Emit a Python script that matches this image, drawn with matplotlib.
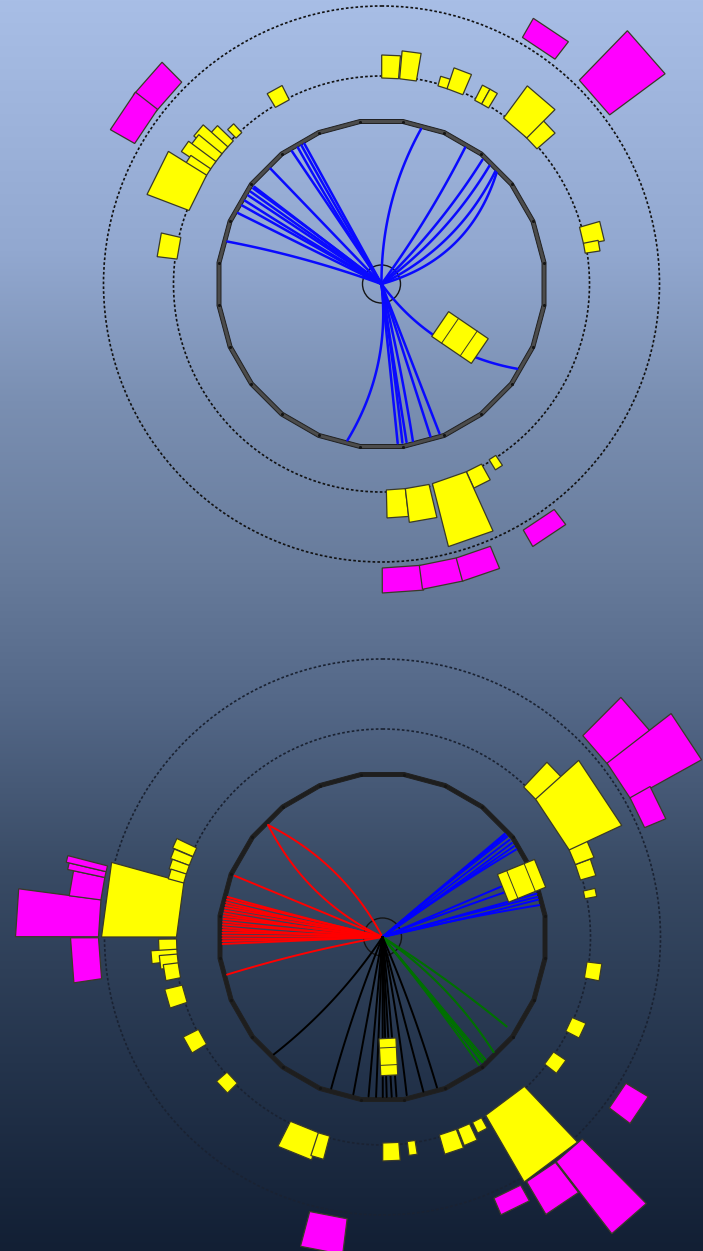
import numpy as np
import matplotlib.pyplot as plt
from matplotlib.patches import Polygon, Circle, PathPatch
from matplotlib.path import Path

W, H = 703, 1251

# detector geometry (pixels)
centres = [(381.5, 284.0), (382.5, 937.0)]
r_pipe = 19
r_trk = 160
r_em = 206
r_had = 284
r_dash = [208, 278]

# ---------- event 1 (top display) ----------
# tracks: end angle (deg), bend (fraction of chord)
ev1_trk_phi = [75.7, 118.8, 120.0, 121.5, 124.0, 133.9, 142.6, 143.3, 144.8, 146.4, 148.6, 150.6,
               153.7, 164.6, 58.5, 50.9, 47.6, 44.7, 44.0, -32.0,
               257.7, 275.8, 277.5, 279.0, 281.3, 287.8, 291.2]
ev1_trk_bend = [0.13, 0.0, 0.01, 0.02, 0.0, 0.0, 0.0, -0.01, 0.0, 0.0, 0.01, 0.0,
                0.0, -0.04, -0.04, -0.06, -0.10, -0.17, -0.27, -0.20,
                0.17, 0.0, 0.01, 0.0, 0.02, 0.0, 0.0]

# EM towers (yellow): angle, angular width, length
ev1_em_phi = [87.6, 82.6, 72.7, 69.1, 62.0, 59.8, 43.5, 49.4, 13.5, 10.0, 118.8, 133.8,
              137.5, 140.0, 142.5, 145.0, 147.5, 153.6, 170.0, 274.0, 280.0, 296.7, 302.6, 289.3]
ev1_em_dphi = [4.7, 4.7, 2.8, 4.7, 2.2, 2.2, 5.0, 8.5, 5.0, 2.8, 4.4, 2.2,
               3.0, 3.5, 3.5, 3.0, 3.0, 11.0, 6.1, 5.3, 6.7, 4.7, 2.2, 10.0]
ev1_em_len = [23, 28, 10, 22, 17, 17, 24, 40, 21, 15, 16, 12,
              22, 33, 30, 34, 24, 45, 20, 28, 34, 18, 12, 65]

# hadronic towers (magenta)
ev1_had_phi = [56.3, 41.2, 138.7, 146.2, 303.7, 274.0, 281.5, 288.9]
ev1_had_dphi = [7.9, 9.3, 8.0, 8.3, 7.5, 7.7, 7.7, 7.3]
ev1_had_len = [22, 69, 28, 28, 19, 25, 24, 24]

# clusters inside the tracker
ev1_clu_phi = [-34.3]
ev1_clu_r0 = [71]
ev1_clu_len = [48]
ev1_clu_w = [30]

# ---------- event 2 (bottom display) ----------
ev2_red_phi = [135.6, 135.6, 157.5, 165.5, 166.5, 167.5, 168.5, 169.5, 170.5, 171.5, 172.5,
               173.5, 174.5, 175.5, 176.5, 177.5, 178.5, 179.5, 180.5, 181.5, 182.5, 193.6]
ev2_red_bend = [0.17, -0.16, 0.0, 0.01, 0.0, 0.02, 0.0, -0.01, 0.0, 0.02, 0.0,
                -0.01, 0.01, 0.0, 0.02, 0.0, -0.01, 0.0, 0.01, 0.0, 0.0, -0.03]

ev2_blue_phi = [40.2, 39.5, 38.8, 37.4, 36.0, 34.6, 33.2, 23.0, 20.0, 15.7, 14.5, 13.5, 11.5]
ev2_blue_bend = [0.0, 0.01, 0.01, 0.0, -0.01, 0.0, 0.02, 0.0, 0.01, 0.0, 0.01, -0.01, 0.02]
ev2_blue_rend = [160, 160, 160, 160, 160, 160, 160, 131, 140, 160, 160, 160, 160]

ev2_green_phi = [-50.0, -51.0, -51.5, -53.0, -46.0, -35.8]
ev2_green_bend = [0.0, 0.005, 0.01, 0.02, 0.10, 0.03]
ev2_green_rend = [160, 160, 160, 160, 160, 153]

ev2_black_phi = [227.2, 251.3, 259.5, 265.0, 267.7, 270.1, 271.5, 273.3, 275.0, 278.7, 284.8, 289.9]
ev2_black_bend = [0.08, -0.03, 0.0, 0.0, 0.0, 0.0, 0.0, 0.0, 0.01, 0.02, 0.0, 0.03]

ev2_em_phi = [172.3, 155.7, 158.4, 161.0, 163.5, 182.2, 185.0, 186.5, 189.3, 196.0, 209.0, 223.1,
              247.9, 253.5, 272.3, 278.0, 288.5, 293.2, 297.3, 306.8, 324.0, 334.9, 350.8, 11.8,
              18.3, 23.1, 44.0, 33.5]
ev2_em_dphi = [15.4, 2.6, 2.6, 2.6, 2.6, 3.3, 3.2, 3.5, 4.2, 5.0, 4.7, 4.2,
               8.9, 3.3, 4.5, 2.2, 5.0, 3.6, 2.8, 13.5, 4.2, 4.2, 4.5, 2.2,
               4.5, 5.0, 5.5, 17.0]
ev2_em_len = [75, 22, 20, 18, 16, 18, 26, 18, 15, 18, 17, 14,
              28, 24, 18, 14, 20, 18, 12, 77, 15, 15, 15, 12,
              16, 20, 34, 58]

ev2_had_phi = [176.2, 170.2, 167.3, 166.1, 184.3, 40.9, 33.4, 26.0, 326.0, 311.2, 304.0, 296.1, 259.0]
ev2_had_dphi = [7.5, 4.6, 1.2, 1.2, 8.3, 8.5, 8.7, 6.7, 6.0, 7.0, 7.0, 6.0, 7.7]
ev2_had_len = [83, 32, 38, 41, 28, 54, 81, 23, 26, 91, 38, 18, 36]

ev2_clu_phi = [22.0, 272.8]
ev2_clu_r0 = [130, 101.5]
ev2_clu_len = [40, 37]
ev2_clu_w = [30, 17]


def xy(c, r, phi):
    a = np.radians(phi)
    return c[0] + r * np.cos(a), c[1] - r * np.sin(a)


def draw_track(ax, c, phi, bend, r_end, color, lw):
    # quadratic curve from the vertex to the tracker edge
    a = np.radians(phi)
    p2 = np.array([r_end * np.cos(a), r_end * np.sin(a)])
    n = np.array([-np.sin(a), np.cos(a)])
    p1 = p2 / 2 + bend * r_end * n
    t = np.linspace(0, 1, 60)[:, None]
    pts = 2 * (1 - t) * t * p1 + t ** 2 * p2
    ax.plot(c[0] + pts[:, 0], c[1] - pts[:, 1], color=color, lw=lw,
            solid_capstyle='round', zorder=4)


def draw_tower(ax, c, phi, dphi, r0, length, fc):
    r1 = r0 + length
    pts = [xy(c, r0, phi - dphi / 2), xy(c, r1, phi - dphi / 2),
           xy(c, r1, phi + dphi / 2), xy(c, r0, phi + dphi / 2)]
    ax.add_patch(Polygon(pts, closed=True, fc=fc, ec='#3a3a28', lw=0.9, zorder=5))


def draw_cluster(ax, c, phi, r0, length, w, fc):
    a = np.radians(phi)
    u = np.array([np.cos(a), -np.sin(a)])
    tv = np.array([np.sin(a), np.cos(a)])
    base = np.array(c)
    pts = [base + r0 * u - w / 2 * tv, base + (r0 + length) * u - w / 2 * tv,
           base + (r0 + length) * u + w / 2 * tv, base + r0 * u + w / 2 * tv]
    ax.add_patch(Polygon(pts, closed=True, fc=fc, ec='#3a3a28', lw=0.9, zorder=6))
    # inner cell lines
    for f in (0.25, 0.72):
        m0 = base + (r0 + length * f) * u
        ax.plot([m0[0] - w / 2 * tv[0], m0[0] + w / 2 * tv[0]],
                [m0[1] - w / 2 * tv[1], m0[1] + w / 2 * tv[1]],
                color='#3a3a28', lw=0.7, zorder=6)


def draw_detector(ax, c, dash_col, ring_col):
    for r in r_dash:
        ax.add_patch(Circle(c, r, fill=False, ec=dash_col, lw=1.2,
                            linestyle=(0, (1.6, 1.3)), zorder=2))
    ang = np.radians(90 + 7.5 + 15 * np.arange(25))
    ro, ri = 164.5 / np.cos(np.radians(7.5)), 160.5 / np.cos(np.radians(7.5))
    outer = np.c_[c[0] + ro * np.cos(ang), c[1] - ro * np.sin(ang)]
    inner = np.c_[c[0] + ri * np.cos(ang[::-1]), c[1] - ri * np.sin(ang[::-1])]
    verts = np.vstack([outer, inner])
    codes = ([Path.MOVETO] + [Path.LINETO] * 23 + [Path.CLOSEPOLY]) * 2
    ax.add_patch(PathPatch(Path(verts, codes), fc=ring_col, ec='#202020', lw=0.7, zorder=3))
    # module corners
    vx, vy = c[0] + 162.5 / np.cos(np.radians(7.5)) * np.cos(ang[:24]), c[1] - 162.5 / np.cos(np.radians(7.5)) * np.sin(ang[:24])
    ax.scatter(vx, vy, s=5, color='#151515', zorder=3, lw=0)
    ax.add_patch(Circle(c, r_pipe, fill=False, ec='#151515', lw=1.0, zorder=3))


fig = plt.figure(figsize=(W / 100, H / 100), dpi=100)
ax = fig.add_axes([0, 0, 1, 1])
ax.set_xlim(0, W)
ax.set_ylim(H, 0)
ax.axis('off')

# background gradient
stops = [0.0, 0.2, 0.32, 0.45, 0.56, 0.7, 0.85, 1.0]
cols = np.array([[168, 190, 230], [146, 168, 208], [122, 143, 178], [104, 124, 156], [84, 104, 136],
                 [56, 74, 100], [36, 52, 76], [18, 31, 52]]) / 255
yy = np.linspace(0, 1, H)
grad = np.stack([np.interp(yy, stops, cols[:, k]) for k in range(3)], axis=1)
ax.imshow(grad[:, None, :], extent=(0, W, H, 0), aspect='auto', zorder=0)

# ---- top display ----
c1 = centres[0]
draw_detector(ax, c1, '#111111', '#4c4c4c')
for phi, b in zip(ev1_trk_phi, ev1_trk_bend):
    draw_track(ax, c1, phi, b, r_trk, '#0a0aff', 1.8)
for phi, d, L in zip(ev1_em_phi, ev1_em_dphi, ev1_em_len):
    draw_tower(ax, c1, phi, d, r_em, L, '#ffff00')
for phi, d, L in zip(ev1_had_phi, ev1_had_dphi, ev1_had_len):
    draw_tower(ax, c1, phi, d, r_had, L, '#ff00ff')
for phi, r0, L, w in zip(ev1_clu_phi, ev1_clu_r0, ev1_clu_len, ev1_clu_w):
    draw_cluster(ax, c1, phi, r0, L, w, '#ffff00')

# ---- bottom display ----
c2 = centres[1]
draw_detector(ax, c2, '#1a2232', '#1e1e1e')
for phi, b in zip(ev2_red_phi, ev2_red_bend):
    draw_track(ax, c2, phi, b, r_trk, '#ff0000', 1.4)
for phi, b, r in zip(ev2_blue_phi, ev2_blue_bend, ev2_blue_rend):
    draw_track(ax, c2, phi, b, r, '#0000ff', 1.4)
for phi, b, r in zip(ev2_green_phi, ev2_green_bend, ev2_green_rend):
    draw_track(ax, c2, phi, b, r, '#007000', 1.5)
for phi, b in zip(ev2_black_phi, ev2_black_bend):
    draw_track(ax, c2, phi, b, r_trk, '#000000', 1.4)
for phi, d, L in zip(ev2_em_phi, ev2_em_dphi, ev2_em_len):
    draw_tower(ax, c2, phi, d, r_em, L, '#ffff00')
for phi, d, L in zip(ev2_had_phi, ev2_had_dphi, ev2_had_len):
    draw_tower(ax, c2, phi, d, r_had, L, '#ff00ff')
for phi, r0, L, w in zip(ev2_clu_phi, ev2_clu_r0, ev2_clu_len, ev2_clu_w):
    draw_cluster(ax, c2, phi, r0, L, w, '#ffff00')

fig.savefig('out.png', dpi=100)
